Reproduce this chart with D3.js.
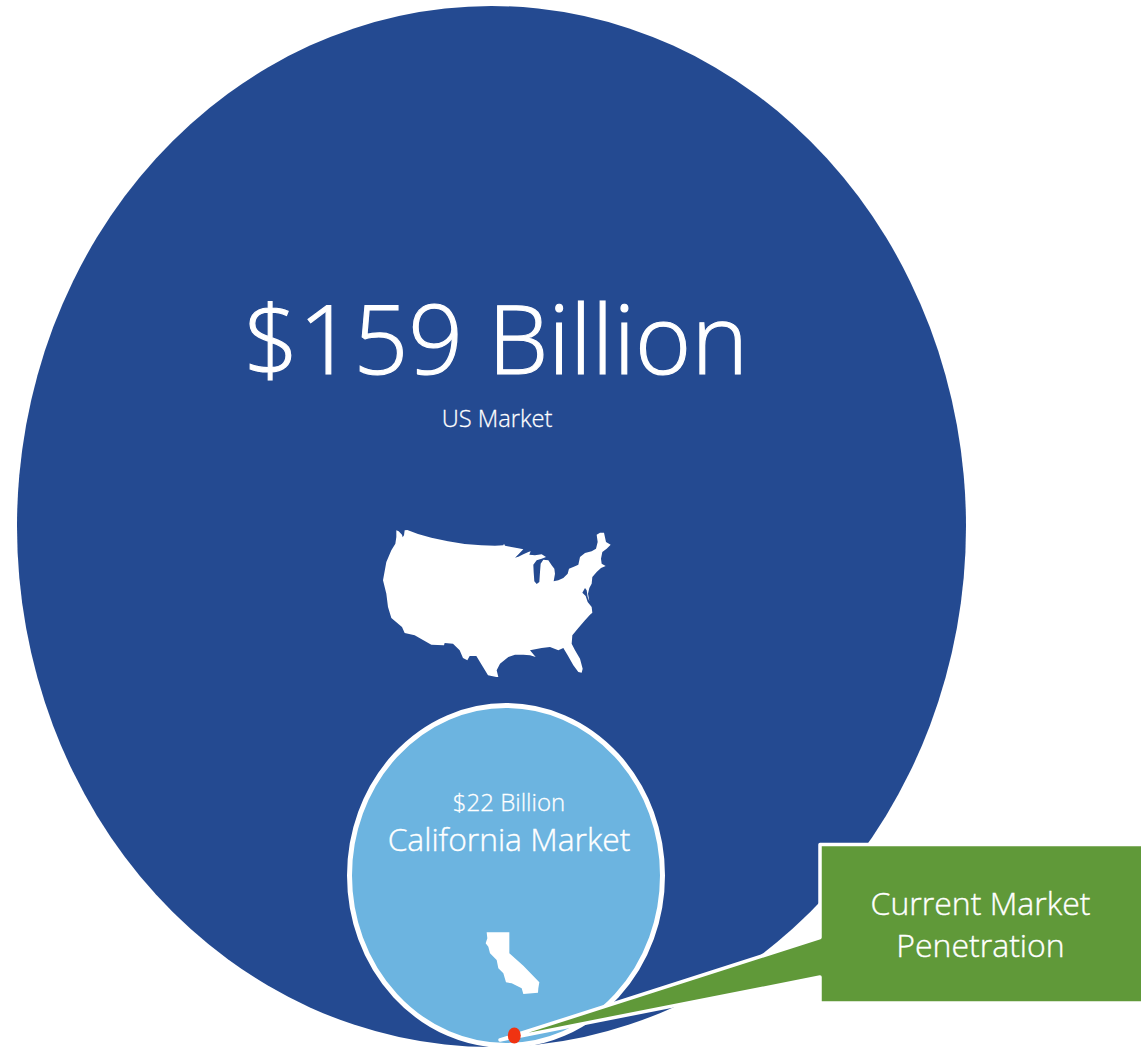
<!DOCTYPE html>
<html>
<head>
<meta charset="utf-8">
<style>
    html, body { margin: 0; padding: 0; background: #fff; overflow: hidden; }
    text { font-family: "Open Sans", sans-serif; font-weight: 300; fill: #fff; stroke: #fff; text-anchor: middle; }
</style>
<script src="https://cdn.jsdelivr.net/npm/d3@7/dist/d3.min.js"></script>
</head>
<body>
<div id="chart"></div>
<script>
// market sizes in billions of dollars
var marketNames = ["US Market", "California Market"];
var marketValues = [159, 22];
var marketLabels = ["$159 Billion", "$22 Billion"];
var calloutLines = ["Current Market", "Penetration"];

// outlines, in icon units
var usOutline = [[55,25],[62,28],[72,38],[74,46],[78,40],[80,25],[88,24],[120,36],[160,47],[210,58],[260,66],[310,70],[351,71],[376,70],[378,65],[381,71],[396,74],[421,79],[436,82],[423,95],[411,107],[421,104],[436,97],[451,90],[458,88],[454,98],[471,100],[491,97],[504,105],[491,110],[476,115],[466,128],[467,150],[469,178],[476,186],[484,180],[486,150],[488,125],[496,113],[511,115],[521,130],[529,140],[531,155],[527,178],[541,175],[556,168],[569,155],[573,140],[591,133],[601,128],[606,105],[621,93],[641,88],[654,80],[659,60],[656,38],[666,32],[678,32],[684,60],[698,68],[686,80],[673,90],[669,110],[671,125],[683,132],[669,138],[656,150],[643,165],[641,185],[634,198],[630,215],[634,238],[629,225],[626,205],[621,198],[613,212],[623,222],[629,240],[641,255],[643,272],[636,278],[621,295],[601,318],[583,340],[581,365],[591,385],[606,410],[614,440],[611,452],[601,450],[586,430],[569,400],[556,378],[541,385],[516,375],[491,378],[456,385],[473,405],[456,400],[436,398],[411,398],[391,405],[366,425],[356,445],[361,465],[355,465],[330,460],[315,435],[295,402],[275,402],[268,415],[255,408],[245,385],[225,365],[200,363],[198,370],[160,368],[110,340],[80,333],[72,315],[40,288],[30,255],[25,215],[15,175],[25,120],[40,85],[52,65],[55,45]];
var caOutline = [[20,22],[88,22],[88,85],[130,122],[178,172],[175,190],[174,203],[130,207],[125,190],[95,175],[78,172],[70,145],[55,130],[50,105],[30,85],[25,65],[17,55],[22,40]];

function display_market_bubbles() {
    var width = 1141, height = 1047;

    var svg = d3.select("#chart").append("svg")
        .attr("width", width)
        .attr("height", height)
        .style("display", "block");

    var rx = d3.scaleLinear().domain([22, 159]).range([156.5, 474.5]);
    var ry = d3.scaleLinear().domain([22, 159]).range([170, 520.5]);
    var cx = d3.scaleOrdinal().domain(marketNames).range([491.5, 506]);
    var cy = d3.scaleOrdinal().domain(marketNames).range([526.5, 875.5]);
    var fill = d3.scaleOrdinal().domain(marketNames).range(["#244A91", "#6CB4E0"]);

    svg.selectAll(".market")
        .data(marketNames)
        .enter().append("ellipse")
        .attr("class", "market")
        .attr("cx", function (d) { return cx(d); })
        .attr("cy", function (d) { return cy(d); })
        .attr("rx", function (d, i) { return rx(marketValues[i]); })
        .attr("ry", function (d, i) { return ry(marketValues[i]); })
        .attr("fill", function (d) { return fill(d); })
        .attr("stroke", function (d, i) { return i === 1 ? "#fff" : "none"; })
        .attr("stroke-width", 5);

    drawIcon(svg, usOutline, [0, 360], [378, 498], [0, 480], [522, 682]);
    drawIcon(svg, caOutline, [0, 195], [480, 545], [0, 225], [925, 1000]);

    addText(svg, marketLabels[0], 496, 374, 96);
    addText(svg, marketNames[0], 497, 427, 23.7);
    addText(svg, marketLabels[1], 509, 811, 24);
    addText(svg, marketNames[1], 509, 851, 31.8);

    // callout box with its pointer running down to the red dot
    var callout = d3.path();
    callout.moveTo(820, 844.5);
    callout.lineTo(1143, 844.5);
    callout.lineTo(1143, 1003);
    callout.lineTo(820, 1003);
    callout.lineTo(820, 977);
    callout.lineTo(500, 1040);
    callout.lineTo(820, 937.5);
    callout.closePath();

    svg.append("path")
        .attr("d", callout.toString())
        .attr("fill", "#609939")
        .attr("stroke", "#fff")
        .attr("stroke-width", 3.5)
        .attr("stroke-linejoin", "round");

    svg.append("ellipse")
        .attr("cx", 514.3)
        .attr("cy", 1035.5)
        .attr("rx", 6.5)
        .attr("ry", 8)
        .attr("fill", "#F03311");

    calloutLines.forEach(function (line, i) {
        addText(svg, line, 980.5, 915 + i * 42, 32);
    });
}

function drawIcon(svg, outline, xDomain, xRange, yDomain, yRange) {
    var x = d3.scaleLinear().domain(xDomain).range(xRange);
    var y = d3.scaleLinear().domain(yDomain).range(yRange);
    var line = d3.line()
        .x(function (d) { return x(d[0]); })
        .y(function (d) { return y(d[1]); })
        .curve(d3.curveLinearClosed);

    svg.append("path")
        .attr("d", line(outline))
        .attr("fill", "#fff");
}

function addText(svg, label, x, y, size) {
    svg.append("text")
        .attr("x", x)
        .attr("y", y)
        .style("font-size", size + "px")
        .style("stroke-width", size * 0.012)
        .text(label);
}

display_market_bubbles();
</script>
</body>
</html>
